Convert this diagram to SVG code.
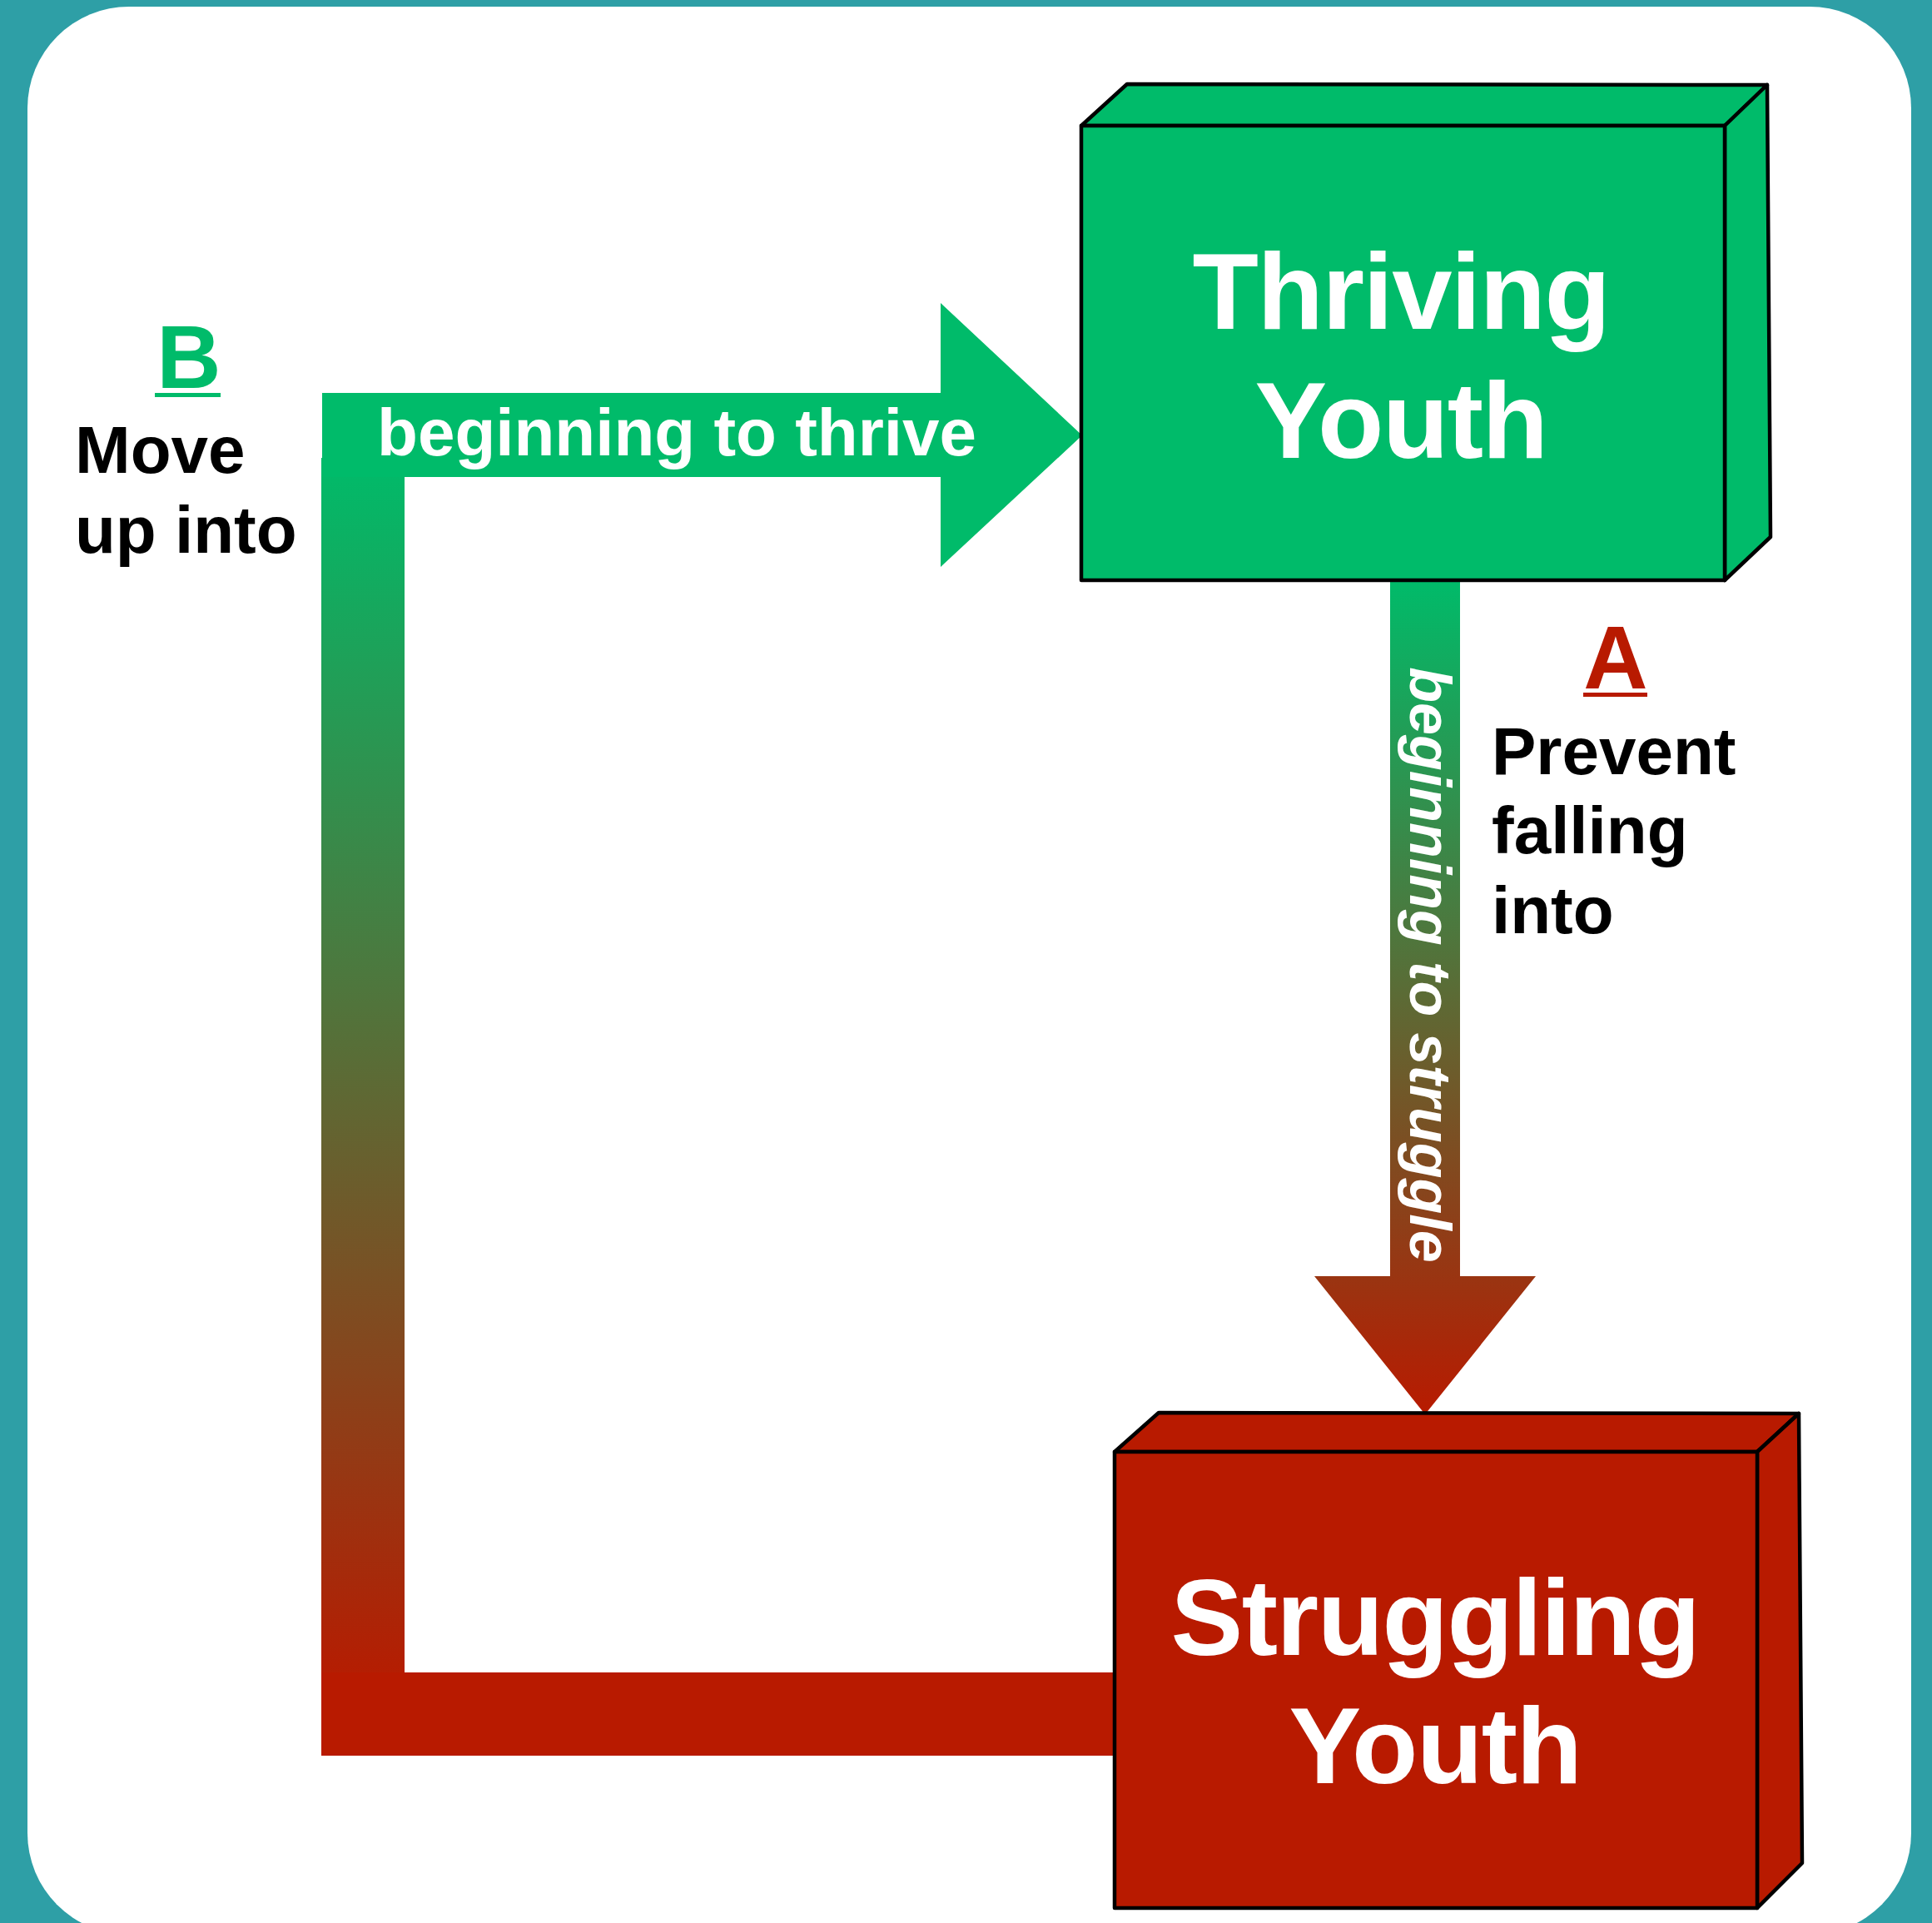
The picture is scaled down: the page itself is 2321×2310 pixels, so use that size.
<svg xmlns="http://www.w3.org/2000/svg" width="2321" height="2310" viewBox="0 0 2321 2310">
  <defs>
    <linearGradient id="gradLeft" gradientUnits="userSpaceOnUse" x1="0" y1="550" x2="0" y2="2040">
      <stop offset="0" stop-color="#00BB6A"/>
      <stop offset="1" stop-color="#B81A00"/>
    </linearGradient>
    <linearGradient id="gradDown" gradientUnits="userSpaceOnUse" x1="0" y1="696" x2="0" y2="1700">
      <stop offset="0" stop-color="#00BB6A"/>
      <stop offset="1" stop-color="#B81A00"/>
    </linearGradient>
    <style>
      .box { stroke: #000; stroke-width: 4.5; stroke-linejoin: round; }
      .green { fill: #00BB6A; }
      .red { fill: #B81A00; }
      .title { font-family: "Liberation Sans", Arial, Helvetica, sans-serif; font-weight: bold; font-size: 130px; fill: #fff; text-anchor: middle; letter-spacing: -1.5px; }
      .lbl { font-family: "Liberation Sans", Arial, Helvetica, sans-serif; font-weight: bold; font-size: 80px; fill: #000; }
      .conn { font-family: "Liberation Sans", Arial, Helvetica, sans-serif; font-weight: bold; fill: #fff; text-anchor: middle; }
      .letter { font-family: "Liberation Sans", Arial, Helvetica, sans-serif; font-weight: bold; font-size: 107px; text-anchor: middle; }
    </style>
  </defs>

  <!-- background frame -->
  <rect x="0" y="0" width="2321" height="2310" fill="#2E9FA6"/>
  <rect x="33" y="8" width="2263" height="2316" rx="122" ry="122" fill="#FFFFFF"/>

  <!-- connectors -->
  <g id="connectors">
    <!-- B: return path from Struggling to Thriving -->
    <rect x="386" y="550" width="100" height="1559" fill="url(#gradLeft)"/>
    <rect x="386" y="2009" width="956" height="100" class="red"/>
    <polygon class="green" points="387,472 1130,472 1130,364 1300,523 1130,681 1130,573 387,573"/>
    <text class="conn" x="813" y="547" font-size="80">beginning to thrive</text>
    <!-- A: down arrow Thriving -> Struggling -->
    <polygon fill="url(#gradDown)" points="1670,694 1754,694 1754,1533 1845,1533 1712,1699 1579,1533 1670,1533"/>
    <text class="conn" transform="translate(1694,1159) rotate(90)" x="0" y="0" font-size="70" font-style="italic">beginning to struggle</text>
  </g>

  <!-- node: Thriving Youth -->
  <g id="thriving">
    <polygon class="box green" points="1299,151 1354,101 2123,102 2072,151"/>
    <polygon class="box green" points="2072,151 2123,102 2127,645 2072,697"/>
    <rect class="box green" x="1299" y="151" width="773" height="546"/>
    <text class="title" x="1683" y="395">Thriving</text>
    <text class="title" x="1683" y="550">Youth</text>
  </g>

  <!-- node: Struggling Youth -->
  <g id="struggling">
    <polygon class="box red" points="1339,1744 1392,1697 2161,1698 2111,1744"/>
    <polygon class="box red" points="2111,1744 2161,1698 2165,2238 2111,2292"/>
    <rect class="box red" x="1339" y="1744" width="772" height="548"/>
    <text class="title" x="1724" y="1988">Struggling</text>
    <text class="title" x="1724" y="2142">Youth</text>
  </g>

  <!-- label B -->
  <g id="labelB">
    <text class="letter" x="227" y="466" fill="#00BB6A">B</text>
    <rect x="186" y="472" width="79" height="5" fill="#00BB6A"/>
    <text class="lbl" x="90" y="568">Move</text>
    <text class="lbl" x="90" y="664">up into</text>
  </g>

  <!-- label A -->
  <g id="labelA">
    <text class="letter" x="1941" y="827" fill="#B81A00">A</text>
    <rect x="1902" y="832" width="77" height="5" fill="#B81A00"/>
    <text class="lbl" x="1792" y="930">Prevent</text>
    <text class="lbl" x="1792" y="1025">falling</text>
    <text class="lbl" x="1792" y="1121">into</text>
  </g>
</svg>
